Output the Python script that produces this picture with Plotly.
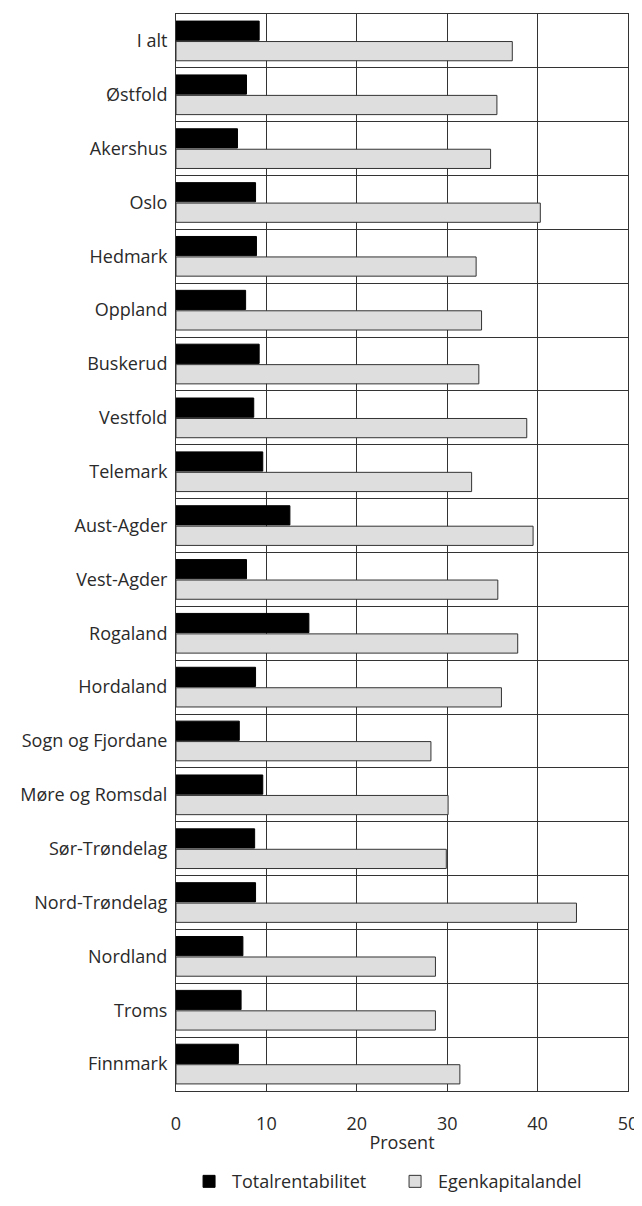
import plotly.graph_objects as go

categories = ["I alt", "Østfold", "Akershus", "Oslo", "Hedmark", "Oppland", "Buskerud",
              "Vestfold", "Telemark", "Aust-Agder", "Vest-Agder", "Rogaland", "Hordaland",
              "Sogn og Fjordane", "Møre og Romsdal", "Sør-Trøndelag", "Nord-Trøndelag",
              "Nordland", "Troms", "Finnmark"]
totalrentabilitet = [9.2, 7.8, 6.8, 8.8, 8.9, 7.7, 9.2, 8.6, 9.6, 12.6, 7.8, 14.7, 8.8,
                     7.0, 9.6, 8.7, 8.8, 7.4, 7.2, 6.9]
egenkapitalandel = [37.2, 35.5, 34.8, 40.3, 33.2, 33.8, 33.5, 38.8, 32.7, 39.5, 35.6, 37.8,
                    36.0, 28.2, 30.1, 29.9, 44.3, 28.7, 28.7, 31.4]
x_ticks = [0, 10, 20, 30, 40, 50]
x_title = "Prosent"

FONT = "Open Sans, Noto Sans, sans-serif"
GRID = "#333333"

fig = go.Figure()
fig.add_trace(go.Bar(
    name="Totalrentabilitet", y=categories, x=totalrentabilitet, orientation="h",
    marker=dict(color="#000000", line=dict(color="#000000", width=1)),
))
fig.add_trace(go.Bar(
    name="Egenkapitalandel", y=categories, x=egenkapitalandel, orientation="h",
    marker=dict(color="#dedede", line=dict(color="#333333", width=1)),
))

# The page body has an 8px default margin, so the figure is sized to fit the window.
fig.update_layout(
    template="none",
    width=634, height=1198,
    margin=dict(l=168, r=14, t=6, b=115, autoexpand=False),
    paper_bgcolor="white", plot_bgcolor="white",
    barmode="group", bargap=0.24, bargroupgap=0.06,
    font=dict(family=FONT, size=18, color="#2a2a2a"),
    showlegend=True,
    legend=dict(orientation="h", x=0.478, xanchor="center", y=-0.067, yanchor="top",
                font=dict(size=18), itemwidth=36, entrywidth=155, entrywidthmode="pixels",
                bgcolor="rgba(0,0,0,0)"),
    xaxis=dict(range=[0, 50], tickvals=x_ticks, showgrid=True, gridcolor=GRID, gridwidth=1,
               showline=True, linecolor=GRID, linewidth=1, mirror=True,
               ticks="outside", ticklen=0, ticklabelstandoff=16, automargin=False,
               zeroline=False, title=dict(text=x_title, standoff=2, font=dict(size=18)),
               tickfont=dict(size=18)),
    yaxis=dict(type="category", autorange="reversed", tickson="boundaries", showgrid=True,
               gridcolor=GRID, gridwidth=1, showline=True, linecolor=GRID, linewidth=1,
               mirror=True, ticks="", ticklen=0, automargin=False, ticklabelstandoff=4,
               tickfont=dict(size=18)),
)

fig.write_html("out.html")
